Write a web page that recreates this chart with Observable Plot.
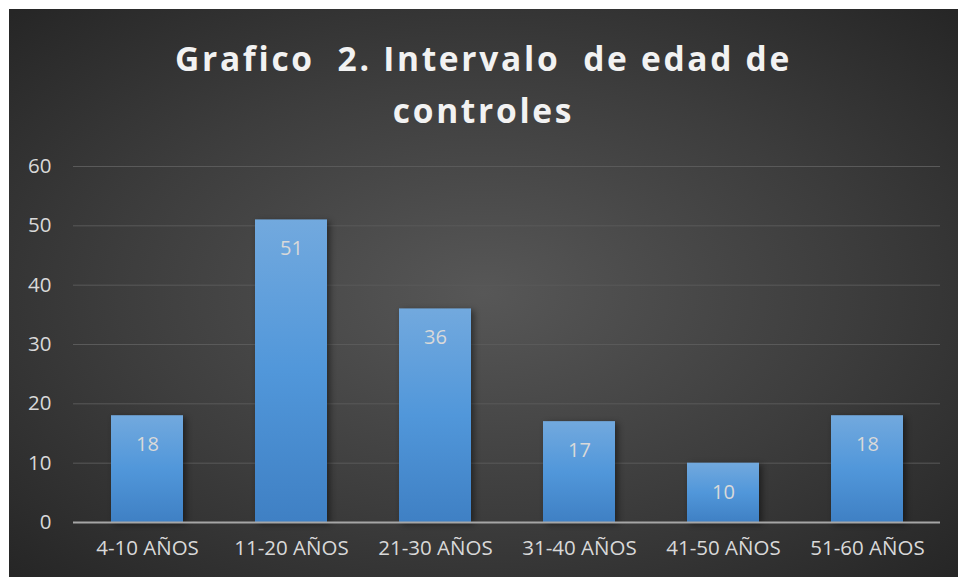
<!DOCTYPE html>
<html><head><meta charset="utf-8">
<script src="https://cdn.jsdelivr.net/npm/d3@7"></script>
<script src="https://cdn.jsdelivr.net/npm/@observablehq/plot@0.6"></script>
<style>
html,body{margin:0;padding:0;background:#fff;}
#wrap{position:absolute;left:9px;top:9px;width:949px;height:568px;
 background:radial-gradient(ellipse 70% 70% at 50% 50%, #575757 0%, #3d3d3d 55%, #262626 100%);overflow:hidden;}
#title{height:141px;box-sizing:border-box;padding-top:23px;text-align:center;color:#f2f2f2;
 font-family:"Open Sans",sans-serif;font-weight:700;font-size:33.5px;line-height:52px;letter-spacing:2.7px;}
svg{display:block;}
</style></head><body>
<div id="wrap"><div id="title">Grafico&nbsp; 2. Intervalo&nbsp; de edad de<br>controles</div><div id="chart"></div></div>
<script>
const categories = ["4-10 AÑOS","11-20 AÑOS","21-30 AÑOS","31-40 AÑOS","41-50 AÑOS","51-60 AÑOS"];
const values = [18,51,36,17,10,18];
const yTicks = [0,10,20,30,40,50,60];
const data = categories.map((c,i)=>({cat:c, v:values[i]}));

const chart = Plot.plot({
  width: 949, height: 427,
  marginLeft: 64, marginRight: 18, marginTop: 16, marginBottom: 55,
  style: {background:"transparent", color:"#d9d9d9", fontFamily:"'Open Sans',sans-serif", fontSize:"20px"},
  x: {domain: categories, paddingInner: 0.5, paddingOuter: 0.25, label: null},
  y: {domain: [0,60], label: null},
  marks: [
    Plot.gridY(yTicks.filter(d=>d>0), {stroke:"#5a5a5a", strokeOpacity:1, strokeWidth:1}),
    Plot.barY(data, {x:"cat", y:"v", fill:"url(#barGrad)", className:"bars"}),
    Plot.ruleY([0], {stroke:"#a6a6a6", strokeWidth:2}),
    Plot.text(data, {x:"cat", y:"v", text:d=>String(d.v), dy:29, fill:"#d9d9d9", fontSize:20}),
    Plot.axisX({tickSize:0, tickPadding:18, fontSize:20.5, fill:"#d9d9d9", label:null, className:"xax"}),
    Plot.axisY({ticks:yTicks, tickSize:0, tickPadding:22, fontSize:20.5, fill:"#d9d9d9", label:null, className:"yax"})
  ]
});
const svg = d3.select(chart);
svg.selectAll(".xax text, .yax text").style("font-size","20.5px");
const defs = svg.insert("defs", ":first-child");
const g = defs.append("linearGradient").attr("id","barGrad").attr("x1",0).attr("y1",0).attr("x2",0).attr("y2",1);
g.append("stop").attr("offset","0%").attr("stop-color","#72a9de");
g.append("stop").attr("offset","50%").attr("stop-color","#5197da");
g.append("stop").attr("offset","100%").attr("stop-color","#3f80c4");
svg.selectAll("g.bars").style("filter","drop-shadow(3px 2px 3px rgba(0,0,0,0.45))");
document.getElementById("chart").appendChild(chart);
</script>
</body></html>
